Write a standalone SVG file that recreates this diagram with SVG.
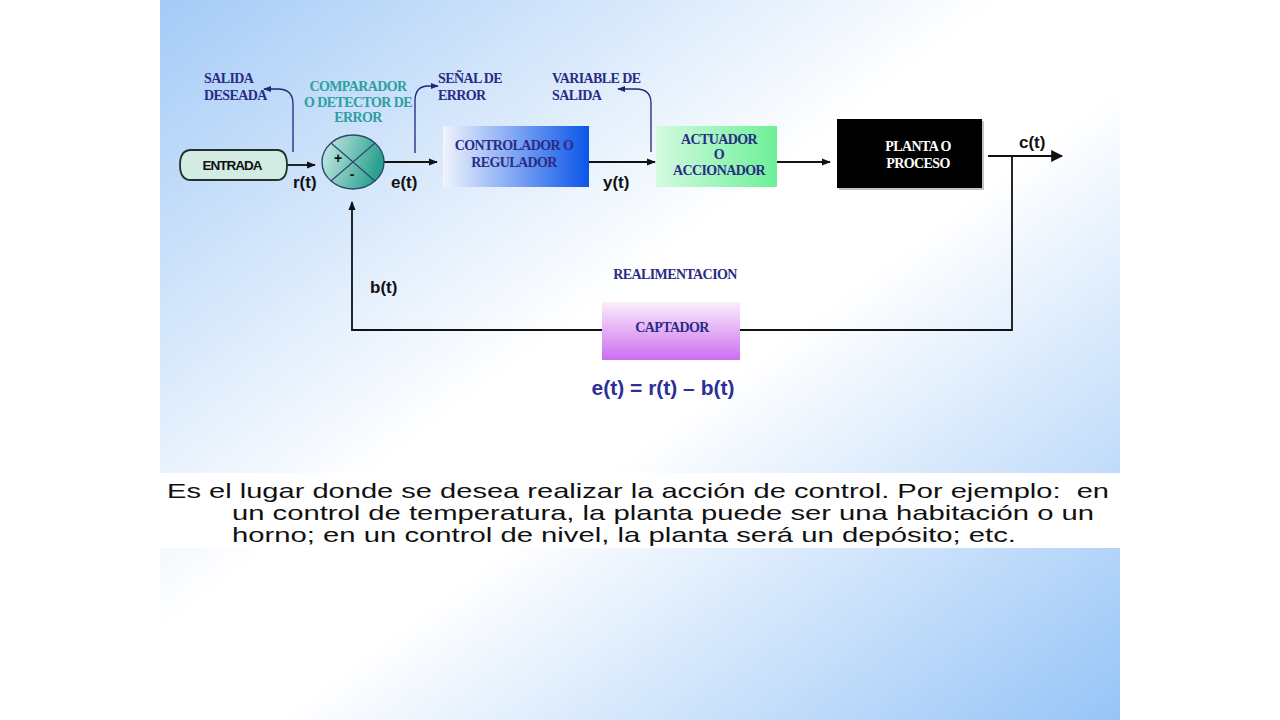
<svg xmlns="http://www.w3.org/2000/svg" width="1280" height="720" viewBox="0 0 1280 720">
<defs>
<linearGradient id="bg" x1="0" y1="0" x2="1" y2="1">
<stop offset="0" stop-color="#a4cbf7"/>
<stop offset="0.44" stop-color="#ffffff"/>
<stop offset="0.56" stop-color="#ffffff"/>
<stop offset="1" stop-color="#96c4f7"/>
</linearGradient>
<linearGradient id="gCtrl" x1="0" y1="0" x2="1" y2="0">
<stop offset="0" stop-color="#f0f4fc"/>
<stop offset="1" stop-color="#0a55e8"/>
</linearGradient>
<linearGradient id="gAct" x1="0" y1="0" x2="1" y2="0">
<stop offset="0" stop-color="#d4fae0"/>
<stop offset="1" stop-color="#6cf098"/>
</linearGradient>
<linearGradient id="gCap" x1="0" y1="0" x2="0" y2="1">
<stop offset="0" stop-color="#fbeefc"/>
<stop offset="1" stop-color="#cc6ef0"/>
</linearGradient>
<linearGradient id="gCmp" x1="0" y1="0" x2="1" y2="0.3">
<stop offset="0" stop-color="#d0eeea"/>
<stop offset="1" stop-color="#2aa08e"/>
</linearGradient>
<marker id="ah" viewBox="0 0 10 10" refX="9" refY="5" markerWidth="9" markerHeight="9" markerUnits="userSpaceOnUse" orient="auto">
<path d="M0,1 L10,5 L0,9 Z" fill="#111"/>
</marker>
<marker id="ahBig" viewBox="0 0 10 10" refX="9" refY="5" markerWidth="14" markerHeight="12" markerUnits="userSpaceOnUse" orient="auto">
<path d="M0,0 L10,5 L0,10 Z" fill="#111"/>
</marker>
<marker id="ahNavy" viewBox="0 0 10 10" refX="9" refY="5" markerWidth="8" markerHeight="8" markerUnits="userSpaceOnUse" orient="auto">
<path d="M0,1 L10,5 L0,9 Z" fill="#23237a"/>
</marker>
</defs>
<style>
.lbl{font-family:"Liberation Serif","Times New Roman",serif;font-weight:bold;font-size:14px;fill:#2b2b86;letter-spacing:-0.6px}
.teal{fill:#2f9ea0}
.white{fill:#ffffff}
.sig{font-family:"Liberation Sans",Arial,sans-serif;font-weight:bold;font-size:17px;fill:#111}
.wire{stroke:#111;stroke-width:1.8;fill:none}
.note{stroke:#23237a;stroke-width:1.3;fill:none}
.para{font-family:"Liberation Sans",Arial,sans-serif;font-size:21px;fill:#111}
</style>
<rect x="0" y="0" width="1280" height="720" fill="#ffffff"/>
<rect x="160" y="0" width="960" height="720" fill="url(#bg)"/>
<rect x="160" y="473" width="960" height="75" fill="#ffffff"/>

<g id="connectors">
<path class="wire" d="M287,165 L315,165" marker-end="url(#ah)"/>
<path class="wire" d="M384,162 L437,162" marker-end="url(#ah)"/>
<path class="wire" d="M589,162 L655,162" marker-end="url(#ah)"/>
<path class="wire" d="M777,162 L830,162" marker-end="url(#ah)"/>
<path class="wire" d="M988,156 L1062,156" stroke-width="2.6" marker-end="url(#ahBig)"/>
<path class="wire" d="M1012,156 L1012,330 L740,330"/>
<path class="wire" d="M602,330 L352,330 L352,202" marker-end="url(#ah)"/>
<path class="note" d="M293,152 L293,104 Q293,89 278,89 L264,89" marker-end="url(#ahNavy)"/>
<path class="note" d="M415,153 L415,101 Q415,86 428,86 L438,86" marker-end="url(#ahNavy)"/>
<path class="note" d="M651,152 L651,103 Q651,89 636,89 L618,89" marker-end="url(#ahNavy)"/>
</g>

<g id="entrada">
<path d="M191,150 L277,150 Q287,150 287,165 Q287,180 277,180 L191,180 Q180,180 180,165 Q180,150 191,150 Z" fill="#d2ece4" stroke="#22302e" stroke-width="1.8"/>
<text x="232" y="170" text-anchor="middle" font-family="Liberation Sans,Arial,sans-serif" font-weight="bold" font-size="13.5" fill="#111" letter-spacing="-1">ENTRADA</text>
</g>

<g id="comparador">
<ellipse cx="353" cy="162" rx="31" ry="27" fill="url(#gCmp)" stroke="#2a4a6a" stroke-width="1.4"/>
<path d="M331,143 L375,181 M375,143 L331,181" stroke="#2a4a6a" stroke-width="1.2"/>
<text x="338" y="163" text-anchor="middle" font-family="Liberation Sans,Arial,sans-serif" font-weight="bold" font-size="14" fill="#111">+</text>
<text x="352" y="179" text-anchor="middle" font-family="Liberation Sans,Arial,sans-serif" font-weight="bold" font-size="14" fill="#111">-</text>
</g>

<g id="controlador">
<rect x="443" y="126" width="146" height="61" fill="url(#gCtrl)"/>
<text class="lbl" x="514" y="150" text-anchor="middle" fill="#454592">CONTROLADOR O</text>
<text class="lbl" x="514" y="167" text-anchor="middle" fill="#454592">REGULADOR</text>
</g>

<g id="actuador">
<rect x="656" y="126" width="121" height="61" fill="url(#gAct)"/>
<text class="lbl" x="719" y="144" text-anchor="middle">ACTUADOR</text>
<text class="lbl" x="719" y="159" text-anchor="middle">O</text>
<text class="lbl" x="719" y="175" text-anchor="middle">ACCIONADOR</text>
</g>

<g id="planta">
<rect x="839" y="121" width="145" height="69" fill="#9a9a9a" opacity="0.6"/>
<rect x="837" y="119" width="145" height="69" fill="#000000"/>
<text class="lbl white" x="918" y="151" font-size="15" text-anchor="middle">PLANTA O</text>
<text class="lbl white" x="918" y="168" font-size="15" text-anchor="middle">PROCESO</text>
</g>

<g id="captador">
<rect x="602" y="302" width="138" height="58" fill="url(#gCap)"/>
<text class="lbl" x="672" y="332" text-anchor="middle">CAPTADOR</text>
</g>

<g id="labels">
<text class="lbl" x="204" y="83">SALIDA</text>
<text class="lbl" x="204" y="100">DESEADA</text>
<text class="lbl teal" x="358" y="91" text-anchor="middle">COMPARADOR</text>
<text class="lbl teal" x="358" y="107" text-anchor="middle">O DETECTOR DE</text>
<text class="lbl teal" x="358" y="122" text-anchor="middle">ERROR</text>
<text class="lbl" x="438" y="83">SEÑAL DE</text>
<text class="lbl" x="438" y="100">ERROR</text>
<text class="lbl" x="552" y="83">VARIABLE DE</text>
<text class="lbl" x="552" y="100">SALIDA</text>
<text class="lbl" x="675" y="279" text-anchor="middle">REALIMENTACION</text>
<text class="sig" x="293" y="188">r(t)</text>
<text class="sig" x="391" y="188">e(t)</text>
<text class="sig" x="603" y="188">y(t)</text>
<text class="sig" x="1019" y="148" font-size="18">c(t)</text>
<text class="sig" x="370" y="293">b(t)</text>
<text x="663" y="395" text-anchor="middle" font-family="Liberation Sans,Arial,sans-serif" font-weight="bold" font-size="21" fill="#2e2e9a">e(t) = r(t) – b(t)</text>
</g>

<g id="paragraph">
<text class="para" x="167" y="498" textLength="942" lengthAdjust="spacingAndGlyphs">Es el lugar donde se desea realizar la acción de control. Por ejemplo:&#160; en</text>
<text class="para" x="232" y="520" textLength="862" lengthAdjust="spacingAndGlyphs">un control de temperatura, la planta puede ser una habitación o un</text>
<text class="para" x="232" y="542" textLength="784" lengthAdjust="spacingAndGlyphs">horno; en un control de nivel, la planta será un depósito; etc.</text>
</g>
</svg>
